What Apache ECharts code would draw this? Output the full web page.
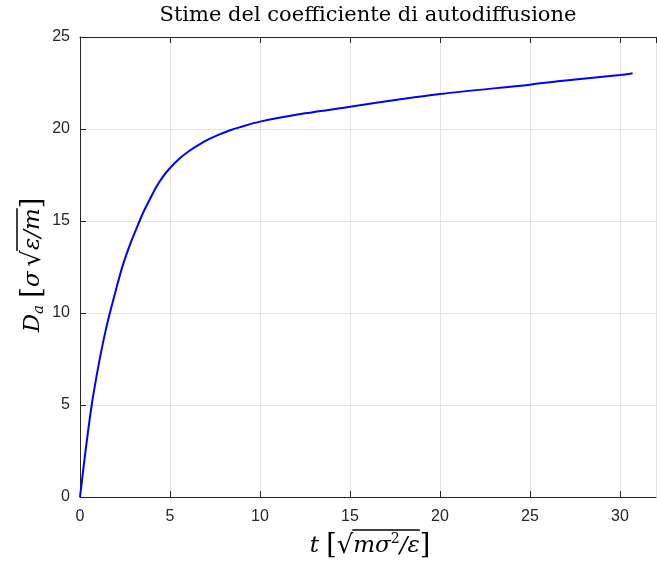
<!DOCTYPE html>
<html><head><meta charset="utf-8">
<script src="https://cdn.jsdelivr.net/npm/echarts@6/dist/echarts.min.js"></script>
<style>html,body{margin:0;padding:0;background:#fff}#c{width:657px;height:564px}</style>
</head><body><div id="c"></div>
<script>
const tValues = [0, 0.32, 0.65, 0.93, 1.16, 1.42, 1.66, 2.01, 2.38, 2.84, 3.31, 3.53, 3.86, 4.23, 4.60, 5.0, 5.53, 6.08, 6.64, 7.19, 7.75, 8.31, 8.86, 10, 12.5, 15, 16.64, 20, 25, 26.7, 30, 30.7];
const dValues = [0, 2.6, 5.0, 6.62, 7.82, 9.03, 10.0, 11.31, 12.6, 13.88, 15.0, 15.5, 16.14, 16.84, 17.4, 17.88, 18.4, 18.82, 19.17, 19.46, 19.71, 19.92, 20.09, 20.40, 20.85, 21.21, 21.45, 21.90, 22.41, 22.61, 22.93, 23.03];
const xTicks = [0, 5, 10, 15, 20, 25, 30];
const yTicks = [0, 5, 10, 15, 20, 25];
const titleText = 'Stime del coefficiente di autodiffusione';

const chart = echarts.init(document.getElementById('c'), null, {renderer: 'canvas'});
const axisCol = '#262626';
const FAM = '"DejaVu Serif"';
const sans = '"Liberation Sans", Arial, sans-serif';
const data = tValues.map((t, i) => [t, dValues[i]]);

const mctx = document.createElement('canvas').getContext('2d');
function tw(text, st) { mctx.font = (st.fontStyle || 'normal') + ' ' + st.fontSize + 'px ' + FAM; return mctx.measureText(text).width; }
const R = {
  i: {fontFamily: FAM, fontStyle: 'italic', fontSize: 23, color: '#000'},
  b: {fontFamily: FAM, fontSize: 27, color: '#000'},
  s: {fontFamily: FAM, fontSize: 26, color: '#000'},
  sup: {fontFamily: FAM, fontSize: 14, color: '#000', verticalAlign: 'top', padding: [0, 0, 10, 0]},
  sub: {fontFamily: FAM, fontStyle: 'italic', fontSize: 15, color: '#000', verticalAlign: 'bottom', padding: [8, 0, 0, 0]}
};
function build(segs) {
  let text = '', pos = [], x = 0;
  segs.forEach(([s, k]) => { pos.push(x); x += tw(s, R[k]); text += '{' + k + '|' + s + '}'; });
  return {text, pos, width: x};
}
const xs = build([['t', 'i'], [' ', 'i'], ['[', 'b'], ['√', 's'], ['mσ', 'i'], ['2', 'sup'], ['/ε', 'i'], [']', 'b']]);
const xCx = 370, xCy = 546;
const xL0 = xCx - xs.width / 2;
const ys = build([['D', 'i'], ['a', 'sub'], [' ', 'i'], ['[', 'b'], ['σ', 'i'], [' ', 'sub'], ['√', 's'], ['ε/m', 'i'], [']', 'b']]);
const yL0 = -ys.width / 2;

chart.setOption({
  animation: false,
  backgroundColor: '#fff',
  grid: {left: 80, right: 1, top: 37, bottom: 67, containLabel: false},
  xAxis: [{
    type: 'value', min: 0, max: 32, interval: 5,
    axisLine: {show: true, onZero: false, lineStyle: {color: axisCol, width: 1}},
    axisTick: {show: true, inside: true, length: 6, lineStyle: {color: axisCol}},
    axisLabel: {color: axisCol, fontFamily: sans, fontSize: 16, margin: 12, showMaxLabel: false,
      formatter: v => xTicks.includes(v) ? String(v) : ''},
    splitLine: {show: true, lineStyle: {color: '#e3e3e3', width: 1}}
  }, {
    type: 'value', min: 0, max: 32, interval: 5, position: 'top',
    axisLine: {show: true, onZero: false, lineStyle: {color: axisCol, width: 1}},
    axisTick: {show: true, inside: true, length: 6, lineStyle: {color: axisCol}},
    axisLabel: {show: false}, splitLine: {show: false}
  }],
  yAxis: [{
    type: 'value', min: 0, max: 25, interval: 5,
    axisLine: {show: true, onZero: false, lineStyle: {color: axisCol, width: 1}},
    axisTick: {show: true, inside: true, length: 6, lineStyle: {color: axisCol}},
    axisLabel: {color: axisCol, fontFamily: sans, fontSize: 16, margin: 10,
      formatter: v => yTicks.includes(v) ? String(v) : ''},
    splitLine: {show: true, lineStyle: {color: '#e3e3e3', width: 1}}
  }],
  series: [{
    type: 'line', data: data, smooth: 0.3, showSymbol: false, symbol: 'none',
    lineStyle: {color: '#0000ff', width: 2}, clip: false
  }],
  graphic: [
    {type: 'text', x: 368, y: 5, style: {text: titleText, font: '21px ' + FAM, fill: '#000', align: 'center'}},
    {type: 'group', x: 0, y: 0, children: [
      {type: 'text', x: xL0, y: xCy, style: {text: xs.text, rich: R, align: 'left', verticalAlign: 'middle'}},
      {type: 'line', shape: {x1: xL0 + xs.pos[4] - 1, y1: xCy - 16, x2: xL0 + xs.pos[7], y2: xCy - 16}, style: {stroke: '#000', lineWidth: 1.5}}
    ]},
    {type: 'group', x: 33, y: 265, rotation: Math.PI / 2, children: [
      {type: 'text', x: yL0, y: 0, style: {text: ys.text, rich: R, align: 'left', verticalAlign: 'middle'}},
      {type: 'line', shape: {x1: yL0 + ys.pos[7] - 1, y1: -16, x2: yL0 + ys.pos[8], y2: -16}, style: {stroke: '#000', lineWidth: 1.5}}
    ]}
  ]
});
</script></body></html>
